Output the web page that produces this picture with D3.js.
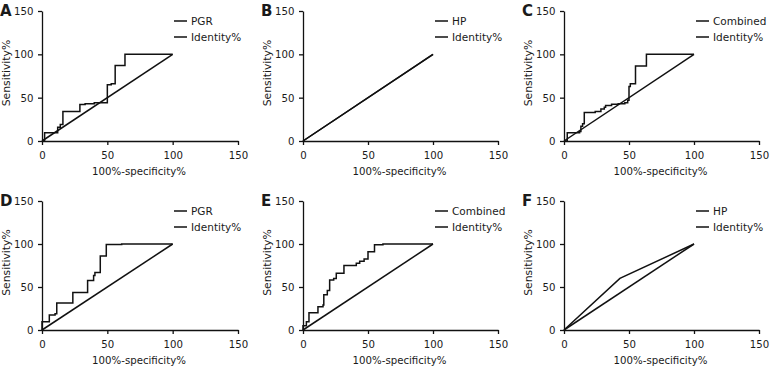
<!DOCTYPE html>
<html><head><meta charset="utf-8">
<script src="https://cdn.jsdelivr.net/npm/d3@7"></script>
<style>
html,body{margin:0;padding:0;background:#fff;}
svg text{font-family:"DejaVu Sans",sans-serif;fill:#1a1a1a;}
</style></head>
<body>
<svg id="chart" width="771" height="369"></svg>
<script>
// ---- data ----
const panelLetters = ["A","B","C","D","E","F"];
const seriesNames = ["PGR","HP","Combined","PGR","Combined","HP"];
const identityName = "Identity%";
const xTicks = [0,50,100,150];
const yTicks = [0,50,100,150];
const xTitle = "100%-specificity%";
const yTitle = "Sensitivity%";

// ROC points (100%-specificity%, sensitivity%), step curves
const rocA_x = [0, 2, 12, 14, 16, 29, 33, 40, 50, 53, 56, 63.5, 100];
const rocA_y = [0, 9.5, 16, 19, 34, 42, 43, 44, 65, 66, 87, 100, 100];
const rocB_x = [0, 100];
const rocB_y = [0, 100];
const rocC_x = [0, 2.5, 12, 13, 14.3, 15.6, 24, 28.4, 31, 32, 36.6, 41.7, 46.8, 49, 50, 51, 55, 63.4, 100];
const rocC_y = [0, 9.5, 11, 17, 20, 33, 34, 37, 39, 41, 42.5, 43, 44, 47, 63, 66, 86.5, 100, 100];
const rocD_x = [0, 0, 5.6, 10, 11.3, 23.6, 34.9, 39.5, 40.5, 44.6, 49.2, 61, 100];
const rocD_y = [0, 9.6, 17.3, 19, 31.5, 43.5, 57.7, 63.5, 67, 86, 99.5, 100, 100];
const rocE_x = [0, 0, 2.6, 4.6, 11.5, 15.4, 16, 18.7, 20.5, 23.6, 25.6, 31.5, 41, 43.6, 47, 50, 55, 61.5, 100];
const rocE_y = [0, 5, 9.6, 20, 27, 29, 41, 46, 58, 60, 66, 75, 77.7, 80, 82.7, 91, 99, 100, 100];
const rocF_x = [0, 43, 100];
const rocF_y = [0, 60, 100];
const identity_x = [0, 100];
const identity_y = [0, 100];

const rocX = [rocA_x, rocB_x, rocC_x, rocD_x, rocE_x, rocF_x];
const rocY = [rocA_y, rocB_y, rocC_y, rocD_y, rocE_y, rocF_y];
const isStep = [true, false, true, true, true, false];

// ---- layout ----
const colX = [[42,238],[303,498],[564,759]];
const rowY = [[11,141],[201,330]];
const tickFont = '"DejaVu Sans Condensed","DejaVu Sans",sans-serif';

const svg = d3.select("#chart");

panelLetters.forEach((letter, i) => {
  const [x0, x1] = colX[i % 3];
  const [yT, yB] = rowY[Math.floor(i / 3)];
  const x = d3.scaleLinear().domain([0,150]).range([x0, x1]);
  const y = d3.scaleLinear().domain([0,150]).range([yB, yT]);
  const g = svg.append("g");

  const xAxis = g.append("g").attr("transform", `translate(0,${yB})`)
    .call(d3.axisBottom(x).tickValues(xTicks).tickSize(4).tickPadding(5.5).tickSizeOuter(0));
  const yAxis = g.append("g").attr("transform", `translate(${x0},0)`)
    .call(d3.axisLeft(y).tickValues(yTicks).tickSize(4).tickPadding(4.5).tickSizeOuter(0));
  [xAxis, yAxis].forEach(a => {
    a.selectAll("path,line").attr("stroke","#111").attr("stroke-width",1.3);
    a.selectAll("text").attr("font-size",11.3).attr("fill","#1a1a1a")
      .style("font-family", tickFont);
  });

  // identity
  const lin = d3.line().x(d=>x(d[0])).y(d=>y(d[1]));
  g.append("path").datum(d3.zip(identity_x, identity_y))
    .attr("d", lin).attr("fill","none").attr("stroke","#111").attr("stroke-width",1.5);
  // ROC
  const rl = d3.line().x(d=>x(d[0])).y(d=>y(d[1])).curve(isStep[i] ? d3.curveStepAfter : d3.curveLinear);
  g.append("path").datum(d3.zip(rocX[i], rocY[i]))
    .attr("d", rl).attr("fill","none").attr("stroke","#111").attr("stroke-width",1.5);

  // titles
  g.append("text").attr("x", (x0 + x1) / 2 - 1).attr("y", yB + 34)
    .attr("text-anchor","middle").attr("font-size",10.2).text(xTitle);
  g.append("text").attr("transform", `translate(${x0 - 32.5},${(yT + yB) / 2 - 3}) rotate(-90)`)
    .attr("text-anchor","middle").attr("font-size",10.8).text(yTitle);

  // panel letter
  g.append("text").attr("x", x0 - 42).attr("y", yT + 5)
    .attr("font-size",15).attr("font-weight","bold")
    .attr("fill","#111").text(letter);

  // legend
  const legNames = [seriesNames[i], identityName];
  const legY = [yT + 10, yT + 26];
  legNames.forEach((nm, k) => {
    g.append("line").attr("x1", x0 + 132).attr("x2", x0 + 145)
      .attr("y1", legY[k]).attr("y2", legY[k]).attr("stroke","#111").attr("stroke-width",1.5);
    g.append("text").attr("x", x0 + 149).attr("y", legY[k] + 4)
      .attr("font-size",10.5).text(nm);
  });
});
</script>
</body></html>
